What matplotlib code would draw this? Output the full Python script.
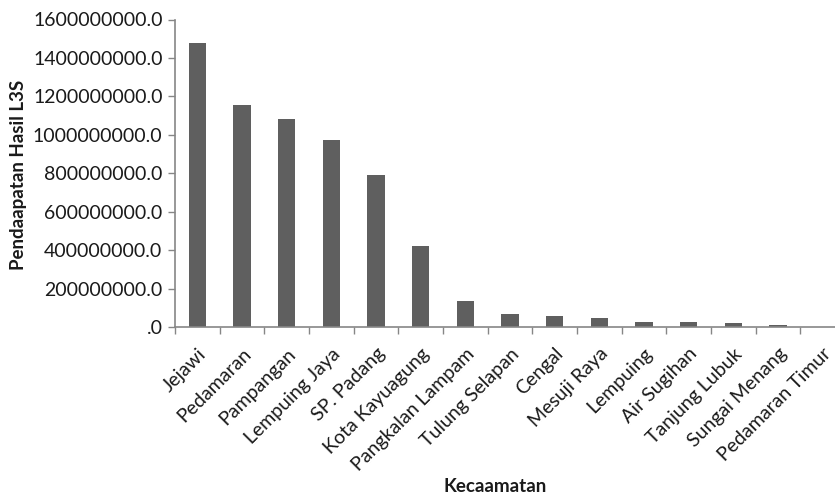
import matplotlib
matplotlib.use("Agg")
import matplotlib.pyplot as plt
from matplotlib.ticker import FuncFormatter, FixedLocator
import numpy as np

kecamatan = ["Jejawi", "Pedamaran", "Pampangan", "Lempuing Jaya", "SP. Padang",
             "Kota Kayuagung", "Pangkalan Lampam", "Tulung Selapan", "Cengal",
             "Mesuji Raya", "Lempuing", "Air Sugihan", "Tanjung Lubuk",
             "Sungai Menang", "Pedamaran Timur"]
pendapatan = [1480e6, 1153e6, 1082e6, 974e6, 790e6,
              420e6, 134e6, 67e6, 58e6,
              48e6, 28e6, 27e6, 22e6,
              11e6, 0.5e6]

plt.rcParams['font.family'] = ['Lato', 'DejaVu Sans']
axis_grey = "#868686"

fig = plt.figure(figsize=(8.35, 5.01), dpi=100)
# plot area runs past the right edge of the image
ax = fig.add_axes([175 / 835, 174 / 501, 670 / 835, 307.5 / 501])

x = np.arange(len(kecamatan))
ax.bar(x, pendapatan, width=0.39, color="#5f5f5f", zorder=2)

ax.set_xlim(-0.5, len(kecamatan) - 0.5)
ax.set_ylim(0, 1600e6)
ax.set_yticks(np.arange(0, 1600e6 + 1, 200e6))
ax.yaxis.set_major_formatter(FuncFormatter(
    lambda v, p: ".0" if v == 0 else "%.1f" % v))

# category boundaries carry the tick marks, labels sit under the bars
ax.xaxis.set_major_locator(FixedLocator(np.arange(-0.5, len(kecamatan), 1.0)))
ax.xaxis.set_major_formatter(FuncFormatter(lambda v, p: ""))
ax.set_xticks(x, minor=True)
ax.set_xticklabels(kecamatan, minor=True, rotation=45, ha="right",
                   rotation_mode="anchor", fontsize=14, color="#1a1a1a")
ax.tick_params(axis="x", which="minor", length=0, pad=13)
ax.tick_params(axis="x", which="major", length=5, color=axis_grey, width=1)
ax.tick_params(axis="y", length=5, color=axis_grey, width=1,
               labelsize=14, labelcolor="#1a1a1a", pad=4)

for s in ("top", "right"):
    ax.spines[s].set_visible(False)
for s in ("left", "bottom"):
    ax.spines[s].set_color(axis_grey)
    ax.spines[s].set_linewidth(1.2)

fig.text(19 / 835, 1 - 175 / 501, "Pendaapatan Hasil L3S", rotation=90,
         ha="center", va="center", fontsize=13.5, fontweight="bold",
         color="#1a1a1a")
fig.text(495 / 835, 1 - 487 / 501, "Kecaamatan", ha="center", va="center",
         fontsize=13.5, fontweight="bold", color="#1a1a1a")

fig.savefig("out.png", dpi=100)
